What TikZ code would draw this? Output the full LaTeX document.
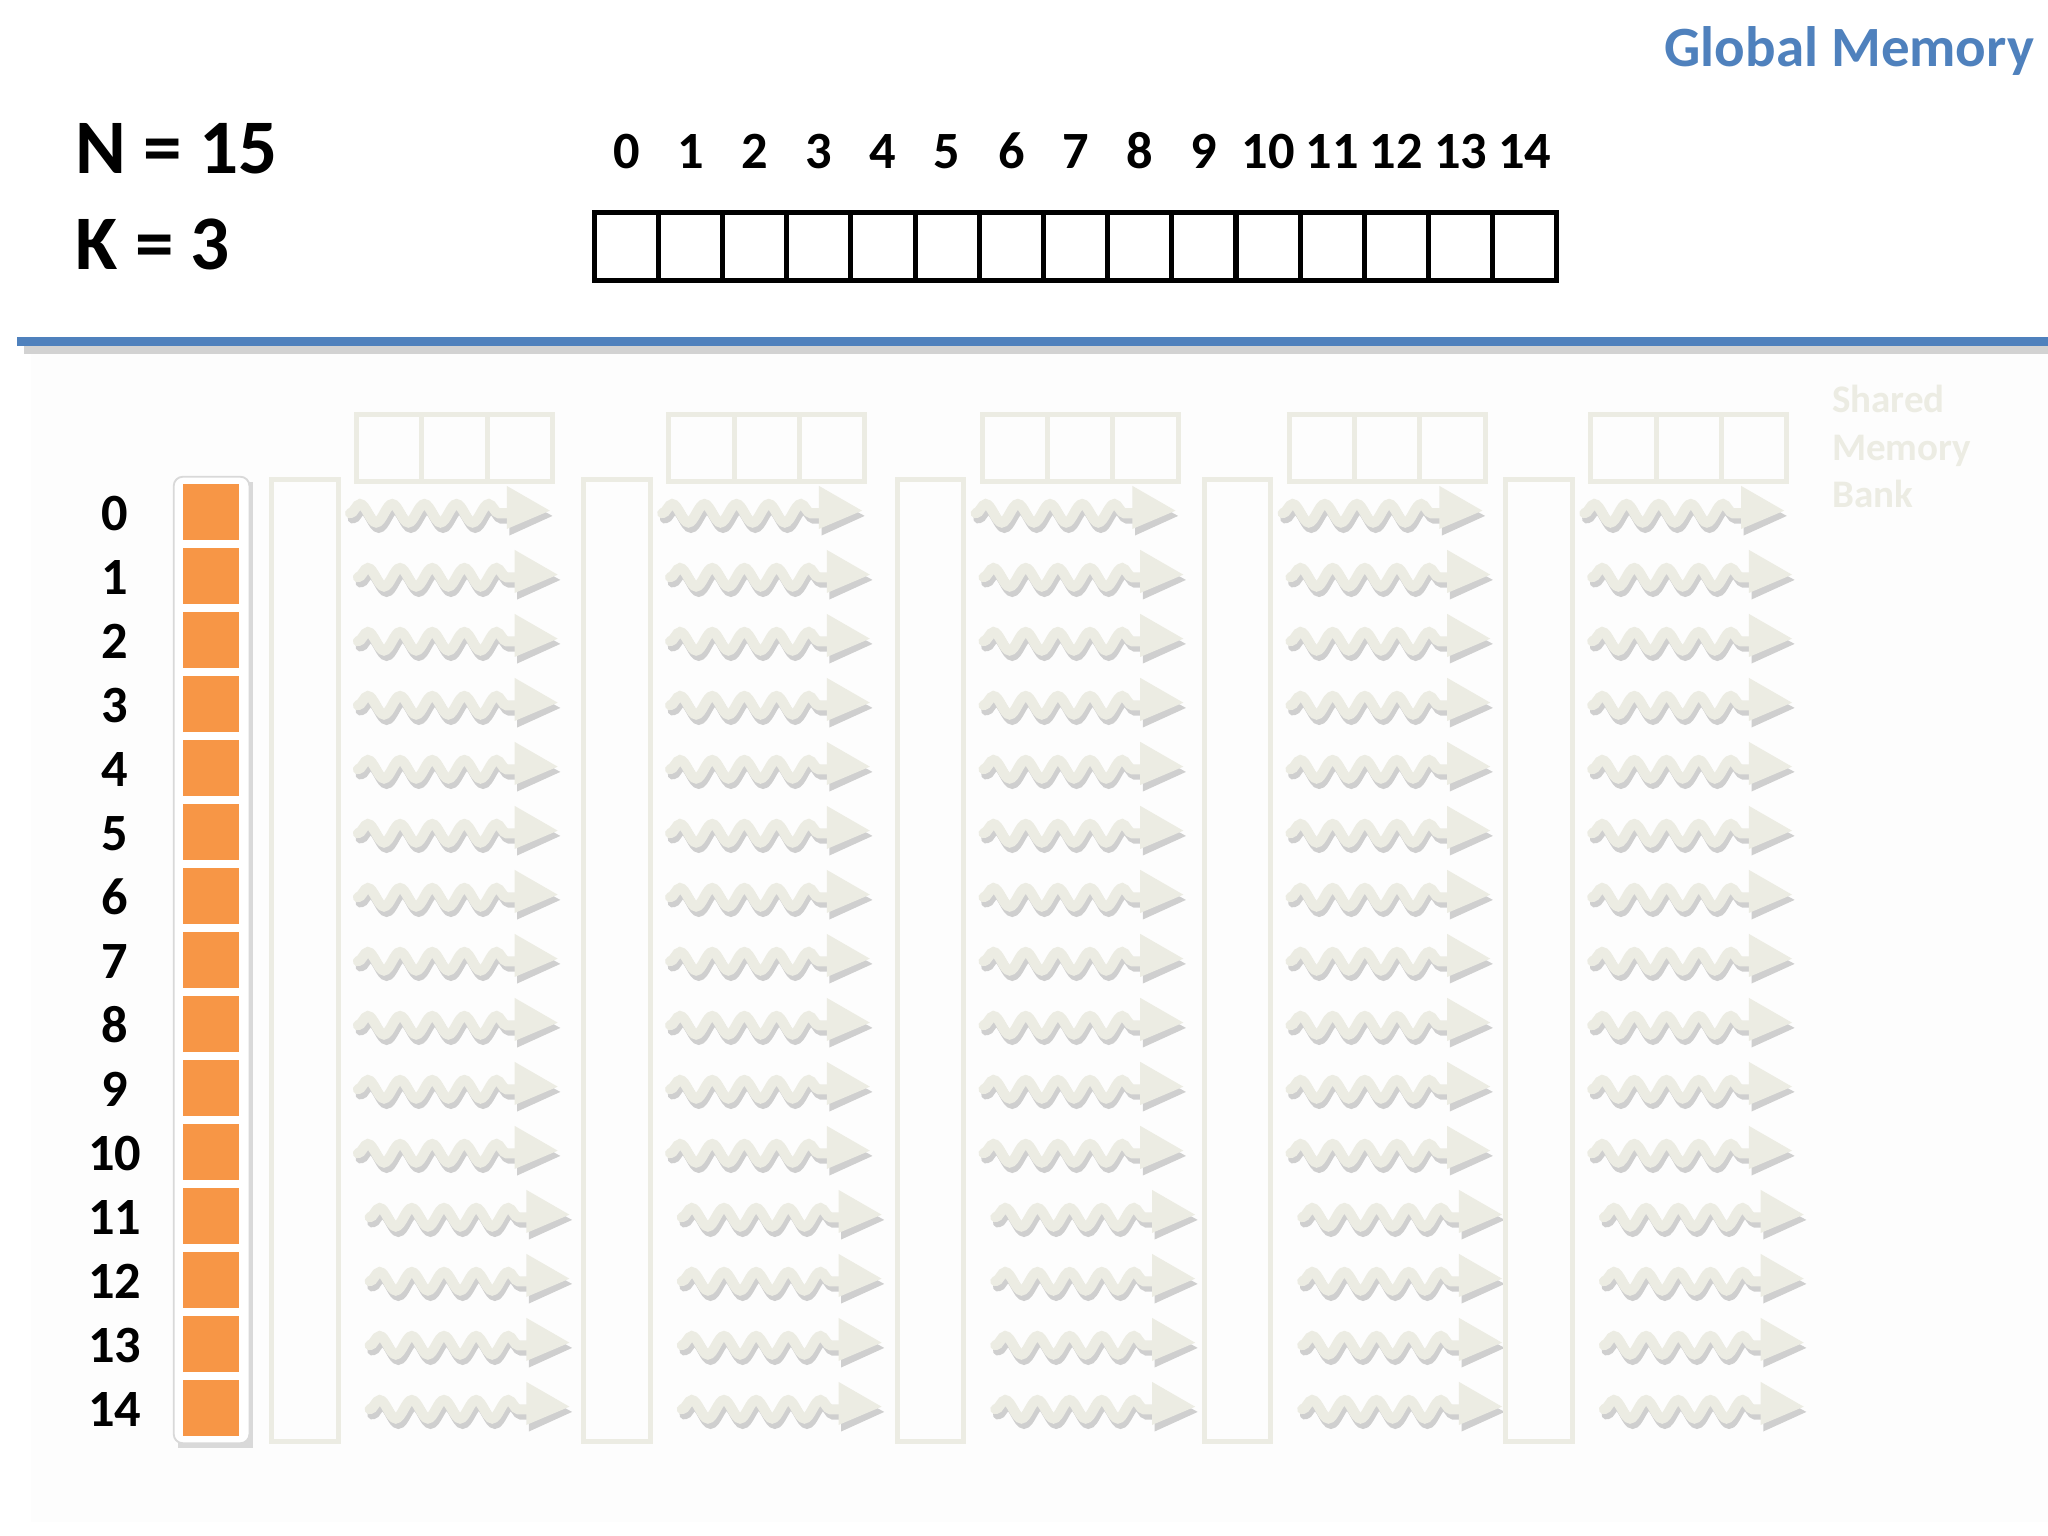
\documentclass[tikz,border=0pt]{standalone}
\usepackage{fontspec}
\setmainfont{Carlito}
\usetikzlibrary{decorations.pathmorphing}

\begin{document}
\begin{tikzpicture}[x=0.01cm, y=-0.01cm,
    bigtxt/.style={font=\fontsize{16.8}{20}\selectfont\bfseries, inner sep=0},
    idxtxt/.style={font=\fontsize{11.4}{13}\selectfont\bfseries, inner sep=0},
    tcell/.style={fill=c2, minimum size=0.43cm, inner sep=0},
    bankline/.style={draw=c3, line width=1.1pt},
    wave/.style={c3, line width=2.2pt, line cap=round, decorate,
        decoration={snake, amplitude=2pt, segment length=7pt}},
    waveshade/.style={wave, c4, opacity=0.75}]
    \definecolor{c1}{RGB}{79,129,189}
    \definecolor{c2}{RGB}{247,150,70}
    \definecolor{c3}{RGB}{236,236,227}
    \definecolor{c4}{RGB}{192,192,192}
    \definecolor{c5}{RGB}{253,253,253}

    \useasboundingbox (0,0) rectangle (1568,1176);
    \fill[white] (0,0) rectangle (1568,1176);
    \fill[c5] (24,271) rectangle (1568,1165);

    %% global memory
    \node[anchor=base east, text=c1, font=\fontsize{12.4}{15}\selectfont\bfseries, inner sep=0] (gm) at (1558,51) {Global Memory};

    \node[bigtxt, anchor=base west] (nval) at (57,132.5) {N = 15};
    \node[bigtxt, anchor=base west] (kval) at (57,206) {K = 3};

    \foreach \i in {0,...,14} \node[idxtxt, anchor=base] (g\i) at ({455+49.13*(\i+0.5)},129) {\i};

    \draw[line width=1.1pt] (455,163) rectangle (1192,215);
    \foreach \i in {1,...,14} \draw[line width=1.1pt] ({455+49.13*\i},163) -- ++(0,52);

    \fill[gray!35] (18,264) rectangle (1568,271);
    \fill[c1] (13,258) rectangle (1568,265);

    %% threads
    \foreach \r in {0,...,14} \node[idxtxt, anchor=base] (row\r) at (88,406+49*\r) {\r};

    \fill[c4!60] (136,369) rectangle (194,1109);
    \draw[draw=gray!30, fill=white, rounded corners=2] (133,365) rectangle (191,1105);
    \foreach \r in {0,...,14} \node[tcell] (t\r) at (161.8,392+49*\r) {};

    %% shared memory banks
    \foreach \gx in {208,447,687,922,1153} {
        \draw[bankline] (\gx,367) rectangle ++(51,737);
        \draw[bankline] (\gx+65,317) rectangle ++(150,52);
        \foreach \k in {1,2} \draw[bankline] (\gx+65+50*\k,317) -- ++(0,52);
        \foreach \r in {0,...,14} {
            \pgfmathsetmacro{\sx}{\gx+60+(\r>0)*6+(\r>10)*9}
            \pgfmathsetmacro{\sy}{392+49*\r}
            \draw[waveshade] (\sx+2,\sy+5) -- ++(121,0);
            \fill[c4, opacity=0.75] (\sx+122,\sy-15) -- ++(0,33) -- (\sx+155,\sy+3) -- cycle;
            \draw[wave] (\sx,\sy+1) -- ++(121,0);
            \fill[c3] (\sx+120,\sy-20) -- ++(0,33) -- (\sx+153,\sy-1) -- cycle;
        }
    }

    \node[anchor=north west, align=left, text=c3, font=\fontsize{8.5}{10.4}\selectfont\bfseries, inner sep=0] (smb) at (1402,294) {Shared\\Memory\\Bank};

\end{tikzpicture}
\end{document}
